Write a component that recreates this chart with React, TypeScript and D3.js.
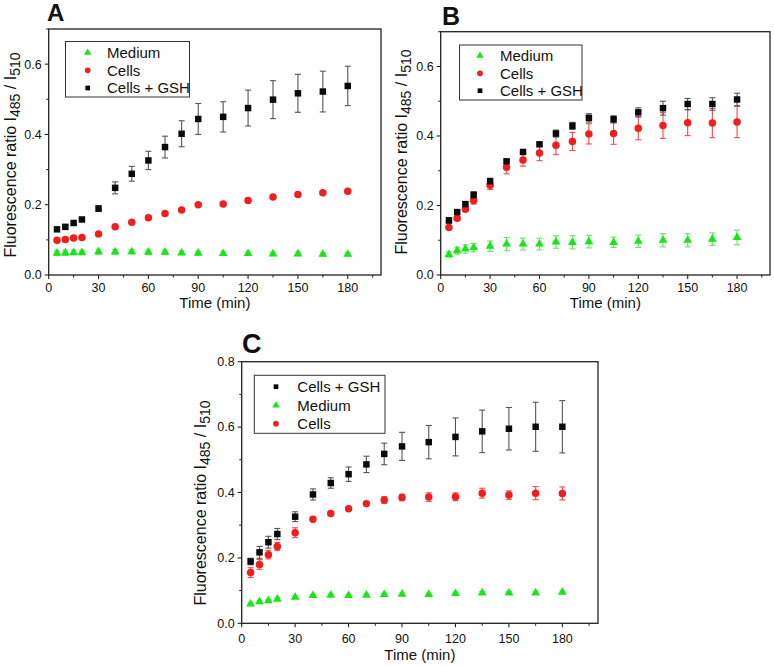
import React from "react";
import * as d3 from "d3";

// ---------- data ----------
const timeMin = [5, 10, 15, 20, 30, 40, 50, 60, 70, 80, 90, 105, 120, 135, 150, 165, 180];
const xTicks = [0, 30, 60, 90, 120, 150, 180];
const xMinorTicks = [15, 45, 75, 105, 135, 165, 195];
const seriesNames = ["Medium", "Cells", "Cells + GSH"];

// Panel A
const aMedium = [0.062, 0.063, 0.064, 0.064, 0.066, 0.066, 0.066, 0.065, 0.065, 0.063, 0.062, 0.061, 0.061, 0.060, 0.060, 0.059, 0.059];
const aMediumErr = [0.007, 0.007, 0.007, 0.007, 0.007, 0.007, 0.006, 0.006, 0.006, 0.005, 0.005, 0.005, 0.005, 0.005, 0.005, 0.005, 0.005];
const aCells = [0.099, 0.101, 0.105, 0.107, 0.117, 0.137, 0.150, 0.163, 0.175, 0.185, 0.200, 0.202, 0.212, 0.222, 0.229, 0.234, 0.238];
const aCellsErr = [0.003, 0.003, 0.003, 0.003, 0.003, 0.003, 0.003, 0.003, 0.003, 0.003, 0.003, 0.003, 0.003, 0.003, 0.003, 0.003, 0.003];
const aGsh = [0.130, 0.137, 0.148, 0.158, 0.189, 0.248, 0.288, 0.326, 0.364, 0.402, 0.444, 0.450, 0.475, 0.499, 0.517, 0.522, 0.538];
const aGshErr = [0.004, 0.004, 0.004, 0.004, 0.008, 0.017, 0.021, 0.026, 0.031, 0.037, 0.044, 0.043, 0.051, 0.054, 0.054, 0.058, 0.056];

// Panel B
const bMedium = [0.059, 0.070, 0.075, 0.079, 0.083, 0.089, 0.089, 0.089, 0.095, 0.094, 0.096, 0.094, 0.097, 0.100, 0.100, 0.103, 0.108];
const bMediumErr = [0.008, 0.010, 0.012, 0.012, 0.015, 0.019, 0.017, 0.017, 0.018, 0.019, 0.018, 0.015, 0.018, 0.019, 0.019, 0.018, 0.021];
const bCells = [0.137, 0.163, 0.189, 0.214, 0.258, 0.310, 0.331, 0.351, 0.373, 0.384, 0.406, 0.407, 0.422, 0.430, 0.438, 0.437, 0.440];
const bCellsErr = [0.005, 0.006, 0.006, 0.010, 0.012, 0.019, 0.018, 0.022, 0.027, 0.026, 0.029, 0.031, 0.033, 0.037, 0.037, 0.042, 0.045];
const bGsh = [0.157, 0.181, 0.204, 0.230, 0.270, 0.327, 0.354, 0.376, 0.407, 0.429, 0.452, 0.448, 0.468, 0.480, 0.492, 0.492, 0.505];
const bGshErr = [0.008, 0.007, 0.007, 0.010, 0.008, 0.005, 0.005, 0.005, 0.010, 0.010, 0.012, 0.010, 0.013, 0.020, 0.016, 0.018, 0.018];

// Panel C
const cMedium = [0.059, 0.066, 0.069, 0.074, 0.080, 0.085, 0.086, 0.085, 0.086, 0.088, 0.089, 0.088, 0.091, 0.093, 0.093, 0.093, 0.095];
const cMediumErr = [0.004, 0.004, 0.004, 0.004, 0.004, 0.004, 0.004, 0.004, 0.004, 0.004, 0.004, 0.004, 0.004, 0.004, 0.004, 0.004, 0.004];
const cCells = [0.155, 0.180, 0.210, 0.235, 0.277, 0.318, 0.336, 0.350, 0.366, 0.377, 0.385, 0.386, 0.387, 0.398, 0.392, 0.398, 0.397];
const cCellsErr = [0.015, 0.015, 0.013, 0.012, 0.015, 0.006, 0.006, 0.005, 0.005, 0.010, 0.010, 0.013, 0.012, 0.015, 0.013, 0.020, 0.020];
const cGsh = [0.189, 0.217, 0.248, 0.273, 0.326, 0.394, 0.429, 0.456, 0.486, 0.518, 0.541, 0.554, 0.570, 0.587, 0.595, 0.601, 0.601];
const cGshErr = [0.010, 0.018, 0.018, 0.017, 0.015, 0.017, 0.016, 0.022, 0.025, 0.033, 0.043, 0.051, 0.058, 0.065, 0.065, 0.075, 0.080];

// ---------- styles ----------
const FONT = "'Liberation Sans', Arial, Helvetica, sans-serif";
const styleMedium = { color: "#19e619", err: "#5ee85e", symbol: d3.symbolTriangle, size: 34, lsize: 24 };
const styleCells = { color: "#f21d1d", err: "#f24a4a", symbol: d3.symbolCircle, size: 44, lsize: 26 };
const styleGsh = { color: "#0a0a0a", err: "#555555", symbol: d3.symbolSquare, size: 42, lsize: 22 };

type Series = { name: string; values: number[]; errs: number[]; st: any };

const panels = [
  {
    letter: "A", letterX: 47, letterY: 21, letterSize: 24,
    left: 48.7, right: 381, top: 29, bottom: 275, yMax: 0.7, yTicks: [0, 0.2, 0.4, 0.6], yMinor: [0.1, 0.3, 0.5, 0.7],
    xLabelBase: 291.5, xTitleY: 307.5, yTitleX: 16, yTitleY: 155,
    legend: { x0: 65.5, y0: 41.5, x1: 189.5, y1: 97, symX: 87.7, textX: 107, rows: [52.7, 70.3, 88] },
    series: [
      { name: seriesNames[0], values: aMedium, errs: aMediumErr, st: styleMedium },
      { name: seriesNames[1], values: aCells, errs: aCellsErr, st: styleCells },
      { name: seriesNames[2], values: aGsh, errs: aGshErr, st: styleGsh },
    ] as Series[],
    legendOrder: [0, 1, 2],
  },
  {
    letter: "B", letterX: 442, letterY: 25, letterSize: 25,
    left: 440.7, right: 770, top: 31.7, bottom: 275, yMax: 0.7, yTicks: [0, 0.2, 0.4, 0.6], yMinor: [0.1, 0.3, 0.5, 0.7],
    xLabelBase: 291.5, xTitleY: 307.5, yTitleX: 407, yTitleY: 152,
    legend: { x0: 459.5, y0: 45, x1: 582, y1: 100, symX: 480, textX: 500, rows: [55.7, 73.3, 90.7] },
    series: [
      { name: seriesNames[0], values: bMedium, errs: bMediumErr, st: styleMedium },
      { name: seriesNames[1], values: bCells, errs: bCellsErr, st: styleCells },
      { name: seriesNames[2], values: bGsh, errs: bGshErr, st: styleGsh },
    ] as Series[],
    legendOrder: [0, 1, 2],
  },
  {
    letter: "C", letterX: 242, letterY: 353, letterSize: 27,
    left: 241.7, right: 598, top: 361.7, bottom: 623.3, yMax: 0.8, yTicks: [0, 0.2, 0.4, 0.6, 0.8], yMinor: [0.1, 0.3, 0.5, 0.7],
    xLabelBase: 643, xTitleY: 660, yTitleX: 206, yTitleY: 503,
    legend: { x0: 254.3, y0: 375.3, x1: 385, y1: 433.3, symX: 276, textX: 297.3, rows: [386.7, 405.3, 423.7] },
    series: [
      { name: seriesNames[0], values: cMedium, errs: cMediumErr, st: styleMedium },
      { name: seriesNames[1], values: cCells, errs: cCellsErr, st: styleCells },
      { name: seriesNames[2], values: cGsh, errs: cGshErr, st: styleGsh },
    ] as Series[],
    legendOrder: [2, 0, 1],
  },
];

function symPath(type: any, size: number) {
  return d3.symbol().type(type).size(size)() as string;
}

function Panel({ p }: { p: any }) {
  const x = d3.scaleLinear().domain([0, 200]).range([p.left, p.right]);
  const y = d3.scaleLinear().domain([0, p.yMax]).range([p.bottom, p.top]);
  const fmt = d3.format(".1f");
  const capW = 3;
  return (
    <g>
      <text x={p.letterX} y={p.letterY} fontFamily={FONT} fontWeight="bold" fontSize={p.letterSize} fill="#111">
        {p.letter}
      </text>
      {/* error bars */}
      {p.series.map((s: Series, si: number) => (
        <g key={"e" + si} stroke={s.st.err} strokeWidth={1.1} fill="none">
          {timeMin.map((t, i) => {
            const cx = x(t);
            const y0 = y(s.values[i] - s.errs[i]);
            const y1 = y(s.values[i] + s.errs[i]);
            return (
              <g key={i}>
                <line x1={cx} x2={cx} y1={y0} y2={y1} />
                <line x1={cx - capW} x2={cx + capW} y1={y0} y2={y0} />
                <line x1={cx - capW} x2={cx + capW} y1={y1} y2={y1} />
              </g>
            );
          })}
        </g>
      ))}
      {/* markers */}
      {p.series.map((s: Series, si: number) => (
        <g key={"m" + si} fill={s.st.color}>
          {timeMin.map((t, i) => (
            <path key={i} d={symPath(s.st.symbol, s.st.size)} transform={`translate(${x(t)},${y(s.values[i])})`} />
          ))}
        </g>
      ))}
      {/* frame */}
      <rect x={p.left} y={p.top} width={p.right - p.left} height={p.bottom - p.top} fill="none" stroke="#222" strokeWidth={1.3} />
      {/* x ticks */}
      {xTicks.map((t) => (
        <g key={"xt" + t}>
          <line x1={x(t)} x2={x(t)} y1={p.bottom} y2={p.bottom + 4} stroke="#222" strokeWidth={1.1} />
          <text x={x(t)} y={p.xLabelBase} textAnchor="middle" fontFamily={FONT} fontSize={12.5} fill="#111">{t}</text>
        </g>
      ))}
      {xMinorTicks.map((t) => (
        <line key={"xm" + t} x1={x(t)} x2={x(t)} y1={p.bottom} y2={p.bottom + 2.5} stroke="#222" strokeWidth={1} />
      ))}
      {/* y ticks */}
      {p.yTicks.map((t: number) => (
        <g key={"yt" + t}>
          <line x1={p.left - 4} x2={p.left} y1={y(t)} y2={y(t)} stroke="#222" strokeWidth={1.1} />
          <text x={p.left - 7} y={y(t)} dy="0.35em" textAnchor="end" fontFamily={FONT} fontSize={12.5} fill="#111">{fmt(t)}</text>
        </g>
      ))}
      {p.yMinor.map((t: number) => (
        <line key={"ym" + t} x1={p.left - 2.5} x2={p.left} y1={y(t)} y2={y(t)} stroke="#222" strokeWidth={1} />
      ))}
      {/* axis titles */}
      <text x={(p.left + p.right) / 2} y={p.xTitleY} textAnchor="middle" fontFamily={FONT} fontSize={15} fill="#111">Time (min)</text>
      <text transform={`translate(${p.yTitleX},${p.yTitleY}) rotate(-90)`} textAnchor="middle" fontFamily={FONT} fontSize={16} fill="#111">
        Fluorescence ratio I<tspan fontSize={14} dy={4}>485</tspan><tspan dy={-4}> / I</tspan><tspan fontSize={14} dy={4}>510</tspan>
      </text>
      {/* legend */}
      <rect x={p.legend.x0} y={p.legend.y0} width={p.legend.x1 - p.legend.x0} height={p.legend.y1 - p.legend.y0} fill="#fff" stroke="#333" strokeWidth={1} />
      {p.legendOrder.map((si: number, r: number) => {
        const s: Series = p.series[si];
        const ry = p.legend.rows[r];
        return (
          <g key={"l" + si}>
            <path d={symPath(s.st.symbol, s.st.lsize)} transform={`translate(${p.legend.symX},${ry})`} fill={s.st.color} />
            <text x={p.legend.textX} y={ry} dy="0.36em" fontFamily={FONT} fontSize={15} fill="#111">{s.name}</text>
          </g>
        );
      })}
    </g>
  );
}

export default function App() {
  return (
    <svg width={774} height={666} style={{ position: "absolute", left: 0, top: 0, background: "#fff" }}>
      <rect width={774} height={666} fill="#fff" />
      {panels.map((p) => (
        <Panel key={p.letter} p={p} />
      ))}
    </svg>
  );
}
